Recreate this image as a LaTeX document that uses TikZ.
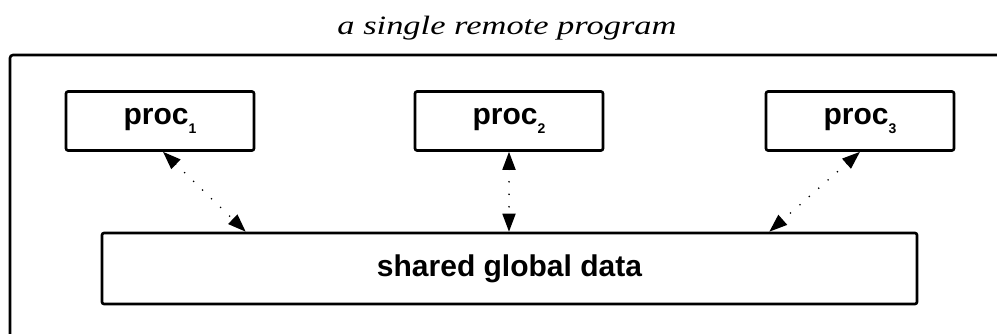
\documentclass[tikz,border=0pt]{standalone}
\usepackage{fontspec}
\setsansfont{Liberation Sans}
\newfontfamily\titlefont[FakeStretch=1.3]{Liberation Serif}
\usetikzlibrary{arrows.meta,positioning,calc}
\newcommand{\procsub}[1]{\raisebox{-0.3em}{\fontsize{14}{14}\selectfont #1}}
\tikzset{
  procbox/.style = {draw,line width=2.6pt,rounded corners=2pt,minimum width=188pt,
                    minimum height=59pt,inner sep=0pt,
                    font=\sffamily\bfseries\fontsize{30}{34}\selectfont},
  databox/.style = {procbox,minimum width=815pt,minimum height=71pt},
  frame/.style   = {draw,line width=2.6pt,rounded corners=3pt},
  link/.style    = {{Triangle[length=18pt,width=13pt]}-{Triangle[length=18pt,width=13pt]},
                    line width=1.8pt,dash pattern=on 0pt off 12.5pt,line cap=round},
}
\begin{document}
\begin{tikzpicture}[x=1pt,y=-1pt]
  \clip (0,0) rectangle (997,334);
  \draw[frame] (10,55) rectangle (1020,360);
  \node[anchor=base,font=\titlefont\itshape\fontsize{26.5}{30}\selectfont] (title) at (507,35) {a single remote program};
  \node[procbox] (proc1) at (160,121) {proc\procsub{1}};
  \node[procbox] (proc2) at (509,121) {proc\procsub{2}};
  \node[procbox] (proc3) at (860,121) {proc\procsub{3}};
  \node[databox] (shared) at (509.5,268.5) {shared global data};
  \draw[link] ([xshift=3pt]proc1.south) -- ([xshift=145pt]shared.north west);
  \draw[link] (proc2.south) -- (proc2.south |- shared.north);
  \draw[link] (proc3.south) -- ([xshift=-149pt]shared.north east);
\end{tikzpicture}
\end{document}
